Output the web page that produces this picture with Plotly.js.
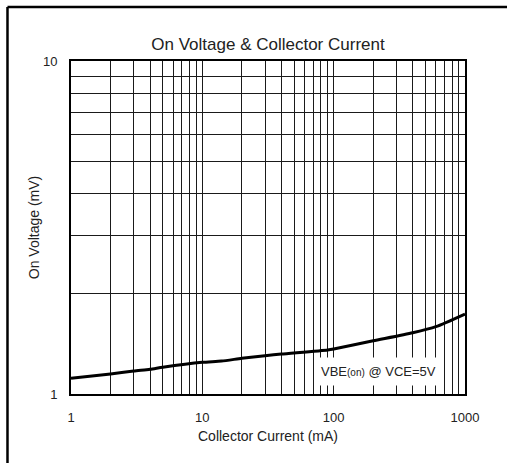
<!DOCTYPE html>
<html>
<head>
<meta charset="utf-8">
<script src="https://cdn.plot.ly/plotly-3.0.1.min.js"></script>
<style>html,body{margin:0;padding:0;background:#fff;}#chart{width:507px;height:463px;}</style>
</head>
<body>
<div id="chart"></div>
<script>
const currentMA = [1, 2, 3, 4, 5, 10, 14, 20, 30, 40, 90, 100, 200, 400, 600, 1000];
const onVoltage = [1.115, 1.148, 1.172, 1.186, 1.203, 1.245, 1.256, 1.280, 1.303, 1.318, 1.356, 1.365, 1.445, 1.528, 1.593, 1.738];
const xGridVals = [1,2,3,4,5,6,7,8,9,10,20,30,40,50,60,70,80,90,100,200,300,400,500,600,700,800,900,1000];
const xTickLabels = {1:"1", 10:"10", 100:"100", 1000:"1000"};
const yGridVals = [1,2,3,4,5,6,7,8,9,10];
const yTickLabels = {1:"1", 10:"10"};

const font = {family: "Liberation Sans, Arial, sans-serif", color: "#222"};
const trace = {
  x: currentMA, y: onVoltage, type: "scatter", mode: "lines",
  line: {color: "#000", width: 3, shape: "spline", smoothing: 0.6},
  hoverinfo: "skip", showlegend: false
};
const axBase = {
  type: "log", showgrid: true, gridcolor: "#1a1a1a", gridwidth: 1,
  showline: true, linecolor: "#000", linewidth: 2, mirror: true,
  zeroline: false, ticks: "", tickmode: "array",
  tickfont: Object.assign({size: 13}, font)
};
const layout = {
  width: 507, height: 463,
  margin: {l: 71, r: 42, t: 61, b: 69},
  paper_bgcolor: "#fff", plot_bgcolor: "#fff",
  font: font,
  title: {text: "On Voltage & Collector Current", font: Object.assign({size: 17}, font),
          x: 0.5, xref: "paper", y: 1, yref: "paper", yanchor: "bottom", pad: {b: 11}},
  xaxis: Object.assign({}, axBase, {
    range: [0, 3], tickvals: xGridVals,
    ticktext: xGridVals.map(v => xTickLabels[v] || ""),
    ticklabelstandoff: 10,
    title: {text: "Collector Current (mA)", font: Object.assign({size: 14}, font), standoff: 8}
  }),
  yaxis: Object.assign({}, axBase, {
    range: [0, 1], tickvals: yGridVals,
    ticktext: yGridVals.map(v => yTickLabels[v] || ""),
    ticklabelstandoff: 9,
    title: {text: "On Voltage (mV)", font: Object.assign({size: 14}, font), standoff: 0}
  }),
  annotations: [{
    xref: "paper", yref: "paper", x: 0.78, y: 0.067, xanchor: "center", yanchor: "middle",
    text: 'VBE<span style="font-size:10px">(on)</span> @ VCE=5V',
    showarrow: false, font: Object.assign({size: 13}, font),
    bgcolor: "#fff", borderpad: 6
  }],
  shapes: [
    {type: "line", xref: "paper", yref: "paper", x0: -0.1612, x1: -0.1612, y0: 1.1622, y1: -0.25,
     line: {color: "#000", width: 2.5}},
    {type: "line", xref: "paper", yref: "paper", x0: -0.1612, x1: 1.15, y0: 1.1622, y1: 1.1622,
     line: {color: "#000", width: 2.5}}
  ]
};
Plotly.newPlot("chart", [trace], layout, {displayModeBar: false, staticPlot: true});
</script>
</body>
</html>
